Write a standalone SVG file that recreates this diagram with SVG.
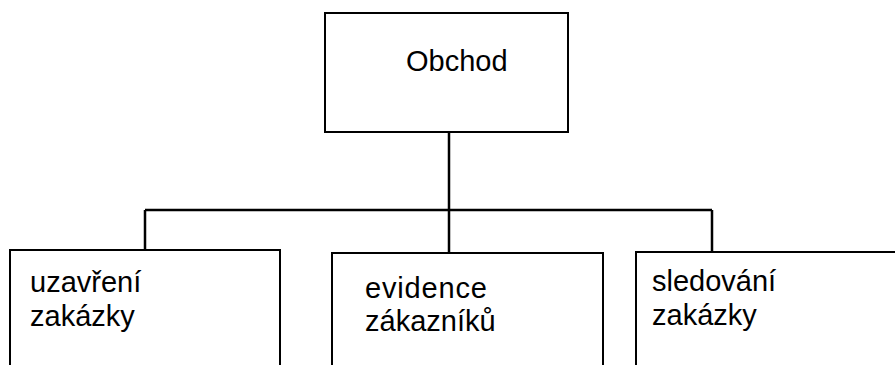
<svg xmlns="http://www.w3.org/2000/svg" width="895" height="365" viewBox="0 0 895 365">
<style>
.box{fill:#fff;stroke:#000;stroke-width:2}
.ln{fill:none;stroke:#000;stroke-width:2.5}
text{font-family:"Liberation Sans",Arial,sans-serif;font-size:29px;fill:#000}
</style>
<rect width="895" height="365" fill="#fff"/>
<g id="connectors">
<path class="ln" d="M449 132 V210 M145 210 H712 M145 210 V251 M449 210 V253 M712 210 V252"/>
</g>
<g id="obchod">
<rect class="box" x="325" y="13" width="243" height="119"/>
<text x="406" y="71" font-size="30">Obchod</text>
</g>
<g id="uzavreni">
<rect class="box" x="10" y="250" width="270" height="130"/>
<text x="30" y="292">uzavření</text>
<text x="30" y="326">zakázky</text>
</g>
<g id="evidence">
<rect class="box" x="332" y="253" width="271" height="130"/>
<text x="365" y="298" textLength="122">evidence</text>
<text x="365" y="331">zákazníků</text>
</g>
<g id="sledovani">
<rect class="box" x="636" y="252" width="270" height="130"/>
<text x="652" y="291">sledování</text>
<text x="652" y="325">zakázky</text>
</g>
</svg>
